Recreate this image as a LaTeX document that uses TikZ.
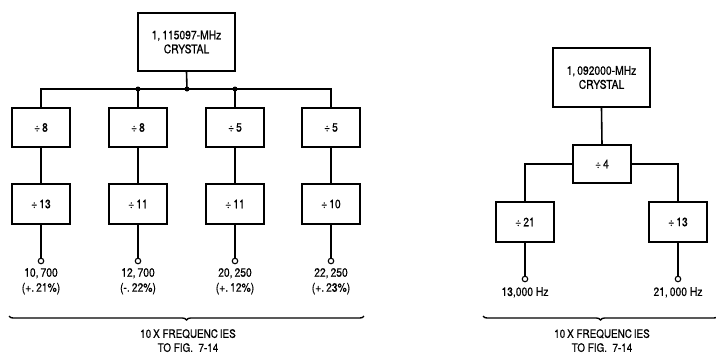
\documentclass[tikz,border=0pt]{standalone}
\usepackage{fontspec}
\setmainfont{TeX Gyre Heros}[FakeStretch=0.86, FakeBold=0.6]
\usetikzlibrary{decorations.pathreplacing}
\begin{document}
\begin{tikzpicture}[x=1pt,y=-1pt,
  box/.style={draw, line width=1.6pt, minimum width=58pt, minimum height=39pt, inner sep=0pt, font=\fontsize{12}{14}\selectfont, align=center},
  wire/.style={line width=1.6pt},
  term/.style={circle, draw, line width=1.1pt, fill=white, minimum size=5.5pt, inner sep=0pt},
  lbl/.style={font=\fontsize{12}{15}\selectfont, align=center, anchor=north, inner sep=0pt},
  dotn/.style={circle, fill=black, minimum size=5pt, inner sep=0pt},
  brc/.style={decorate, decoration={brace, mirror, amplitude=4pt}, line width=1.4pt}]
\useasboundingbox (0,0) rectangle (716,357);
% ---------- left diagram ----------
\node[box, minimum width=97pt, minimum height=58pt] (c1) at (186.5,42) {1,\,115097-MHz\\CRYSTAL};
\node[box] (a1) at (41,127.5) {÷\,8};
\node[box] (a2) at (138,127.5) {÷\,8};
\node[box] (a3) at (235,127.5) {÷\,5};
\node[box] (a4) at (331,127.5) {÷\,5};
\node[box, minimum height=40pt] (b1) at (41,204) {÷\,13};
\node[box, minimum height=40pt] (b2) at (138,204) {÷\,11};
\node[box, minimum height=40pt] (b3) at (235,204) {÷\,11};
\node[box, minimum height=40pt] (b4) at (331,204) {÷\,10};
\coordinate (bus) at (187,89);
\draw[wire] (c1.south) -- (bus);
\draw[wire] (a1.north) |- (bus) -| (a4.north);
\draw[wire] (a2.north) -- (a2.north |- bus);
\draw[wire] (a3.north) -- (a3.north |- bus);
\node[dotn] (d1) at (a2.north |- bus) {};
\node[dotn] (d2) at (bus) {};
\node[dotn] (d3) at (a3.north |- bus) {};
\foreach \i in {1,2,3,4} {
  \draw[wire] (a\i.south) -- (b\i.north);
  \node[term] (t\i) at (b\i.south |- 0,261) {};
  \draw[wire] (b\i.south) -- (t\i.north);
}
\node[lbl] (l1) at (t1.south |- 0,268) {10,\,700\\(+.\,21\%)};
\node[lbl] (l2) at (t2.south |- 0,268) {12,\,700\\(-.\,22\%)};
\node[lbl] (l3) at (t3.south |- 0,268) {20,\,250\\(+.\,12\%)};
\node[lbl] (l4) at (t4.south |- 0,268) {22,\,250\\(+.\,23\%)};
\coordinate (bl1) at (9,316);
\coordinate (bl2) at (364,316);
\draw[brc] (bl1) -- (bl2);
\node[lbl, font=\fontsize{11.5}{14}\selectfont] (f1) at (188,329) {10\,X FREQUENC\,IES\\TO FIG.~~7-14};
% ---------- right diagram ----------
\node[box, minimum width=97pt, minimum height=59pt] (c2) at (601.5,77.5) {1,\,092000-MHz\\CRYSTAL};
\node[box, minimum height=38pt] (q) at (602,164) {÷\,4};
\node[box, minimum height=40pt] (r1) at (525,222) {÷\,21};
\node[box, minimum height=40pt] (r2) at (678,222) {÷\,13};
\draw[wire] (c2.south) -- (q.north);
\draw[wire] (q.west) -| (r1.north);
\draw[wire] (q.east) -| (r2.north);
\node[term] (u1) at (r1.south |- 0,279) {};
\node[term] (u2) at (r2.south |- 0,279) {};
\draw[wire] (r1.south) -- (u1.north);
\draw[wire] (r2.south) -- (u2.north);
\node[lbl] (m1) at (u1.south |- 0,287) {13,000 Hz};
\node[lbl] (m2) at (u2.south |- 0,287) {21,\,000 Hz};
\coordinate (br1) at (483,316);
\coordinate (br2) at (718,316);
\draw[brc] (br1) -- (br2);
\node[lbl, font=\fontsize{11.5}{14}\selectfont] (f2) at (602,329) {10\,X FREQUENC\,IES\\TO FIG.~~7-14};
\end{tikzpicture}
\end{document}
